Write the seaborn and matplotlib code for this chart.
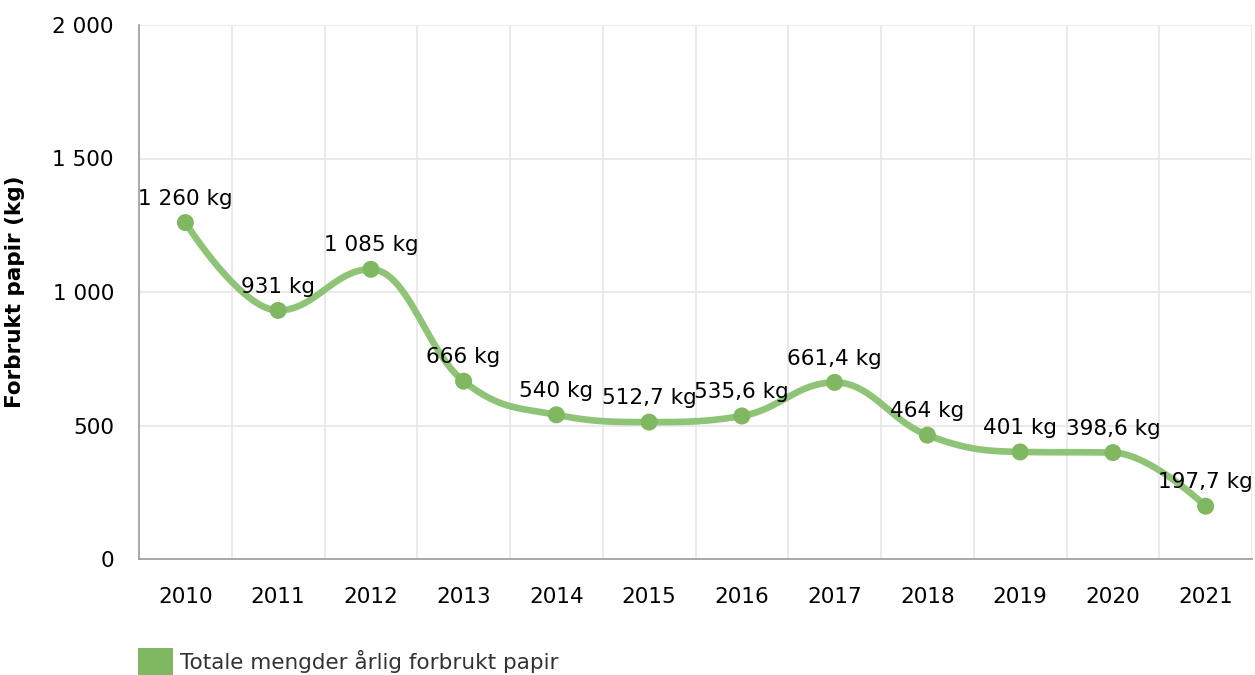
import matplotlib
matplotlib.use("Agg")
import matplotlib.pyplot as plt
from matplotlib.patches import Patch
import seaborn as sns
import numpy as np
import pandas as pd

# data
years = ["2010", "2011", "2012", "2013", "2014", "2015", "2016", "2017", "2018", "2019", "2020", "2021"]
papir = [1260, 931, 1085, 666, 540, 512.7, 535.6, 661.4, 464, 401, 398.6, 197.7]
y_ticks = [0, 500, 1000, 1500, 2000]
serie_navn = "Totale mengder årlig forbrukt papir"
y_tittel = "Forbrukt papir (kg)"

LINE_COLOR = "#8fc478"
POINT_COLOR = "#80b862"
FS = 15.5


def fmt_num(v):
    if float(v).is_integer():
        s = f"{int(v):,}".replace(",", " ")
    else:
        s = f"{v:,.1f}".replace(",", " ").replace(".", ",")
    return s


def spline_path(xs, ys, smoothing=1.5, n=40):
    # highcharts-lignende spline (bezier mellom punktene)
    k = len(xs)
    left = [(xs[i], ys[i]) for i in range(k)]
    right = [(xs[i], ys[i]) for i in range(k)]
    d = smoothing + 1
    for i in range(1, k - 1):
        lx = (smoothing * xs[i] + xs[i - 1]) / d
        ly = (smoothing * ys[i] + ys[i - 1]) / d
        rx = (smoothing * xs[i] + xs[i + 1]) / d
        ry = (smoothing * ys[i] + ys[i + 1]) / d
        if rx != lx:
            corr = ((ry - ly) * (rx - xs[i])) / (rx - lx) + ys[i] - ry
            ly += corr
            ry += corr
        if ly > ys[i - 1] and ly > ys[i]:
            ly = max(ys[i - 1], ys[i]); ry = 2 * ys[i] - ly
        elif ly < ys[i - 1] and ly < ys[i]:
            ly = min(ys[i - 1], ys[i]); ry = 2 * ys[i] - ly
        if ry > ys[i + 1] and ry > ys[i]:
            ry = max(ys[i + 1], ys[i]); ly = 2 * ys[i] - ry
        elif ry < ys[i + 1] and ry < ys[i]:
            ry = min(ys[i + 1], ys[i]); ly = 2 * ys[i] - ry
        left[i] = (lx, ly)
        right[i] = (rx, ry)
    t = np.linspace(0, 1, n)
    px, py = [], []
    for i in range(1, k):
        p0 = np.array([xs[i - 1], ys[i - 1]])
        p1 = np.array(right[i - 1])
        p2 = np.array(left[i])
        p3 = np.array([xs[i], ys[i]])
        b = ((1 - t) ** 3)[:, None] * p0 + (3 * (1 - t) ** 2 * t)[:, None] * p1 \
            + (3 * (1 - t) * t ** 2)[:, None] * p2 + (t ** 3)[:, None] * p3
        px.extend(b[:, 0]); py.extend(b[:, 1])
    return np.array(px), np.array(py)


sns.set_theme(style="white")
plt.rcParams['font.family'] = ['DejaVu Sans']

df = pd.DataFrame({"aar": years, "kg": papir})
df["x"] = np.arange(len(df))

fig = plt.figure(figsize=(12.55, 6.75), dpi=100)
ax = fig.add_axes([139 / 1255, 1 - 559 / 675, 1113 / 1255, 534 / 675])

sx, sy = spline_path(df["x"].values.astype(float), df["kg"].values.astype(float))
ax.plot(sx, sy, color=LINE_COLOR, lw=4.8, solid_capstyle="round", zorder=3)
sns.scatterplot(data=df, x="x", y="kg", ax=ax, color=POINT_COLOR, s=150,
                edgecolor="none", zorder=4, legend=False)

for xi, v in zip(df["x"], df["kg"]):
    ax.annotate(f"{fmt_num(v)} kg", (xi, v), xytext=(0, 10), textcoords="offset points",
                ha="center", va="bottom", fontsize=FS, color="black", zorder=5)

ax.set_xlim(-0.5, len(years) - 0.5)
ax.set_ylim(0, 2000)
ax.set_yticks(y_ticks)
ax.set_yticklabels([fmt_num(v) for v in y_ticks], fontsize=FS)
ax.set_xticks(df["x"])
ax.set_xticklabels(years, fontsize=FS)
ax.set_xlabel("")
ax.set_ylabel(y_tittel, fontsize=FS, fontweight="bold", color="black")
ax.yaxis.set_label_coords((25 - 139) / 1113, 0.5)

# rutenett
for yv in y_ticks[1:]:
    ax.axhline(yv, color="#e6e6e6", lw=1.2, zorder=0)
for xb in np.arange(0.5, len(years), 1.0):
    ax.axvline(xb, color="#e6e6e6", lw=1.2, zorder=0)

for side in ["top", "right"]:
    ax.spines[side].set_visible(False)
ax.spines["left"].set_color("#999999")
ax.spines["bottom"].set_color("#999999")
ax.spines["left"].set_linewidth(1.2)
ax.spines["bottom"].set_linewidth(1.2)
ax.tick_params(axis="y", length=8, width=1.2, color="#999999", pad=10, labelcolor="black")
ax.tick_params(axis="x", length=8, width=1.2, color="#999999", pad=12, labelcolor="black")

handle = Patch(facecolor=POINT_COLOR, edgecolor="none")
leg = ax.legend(handles=[handle], labels=[serie_navn], loc="lower left",
                bbox_to_anchor=(119 / 1255, -0.03), bbox_transform=fig.transFigure,
                frameon=False, fontsize=FS, handlelength=1.6, handleheight=1.6,
                handletextpad=0.35)
for txt in leg.get_texts():
    txt.set_color("#333333")

fig.savefig("out.png", dpi=100)
